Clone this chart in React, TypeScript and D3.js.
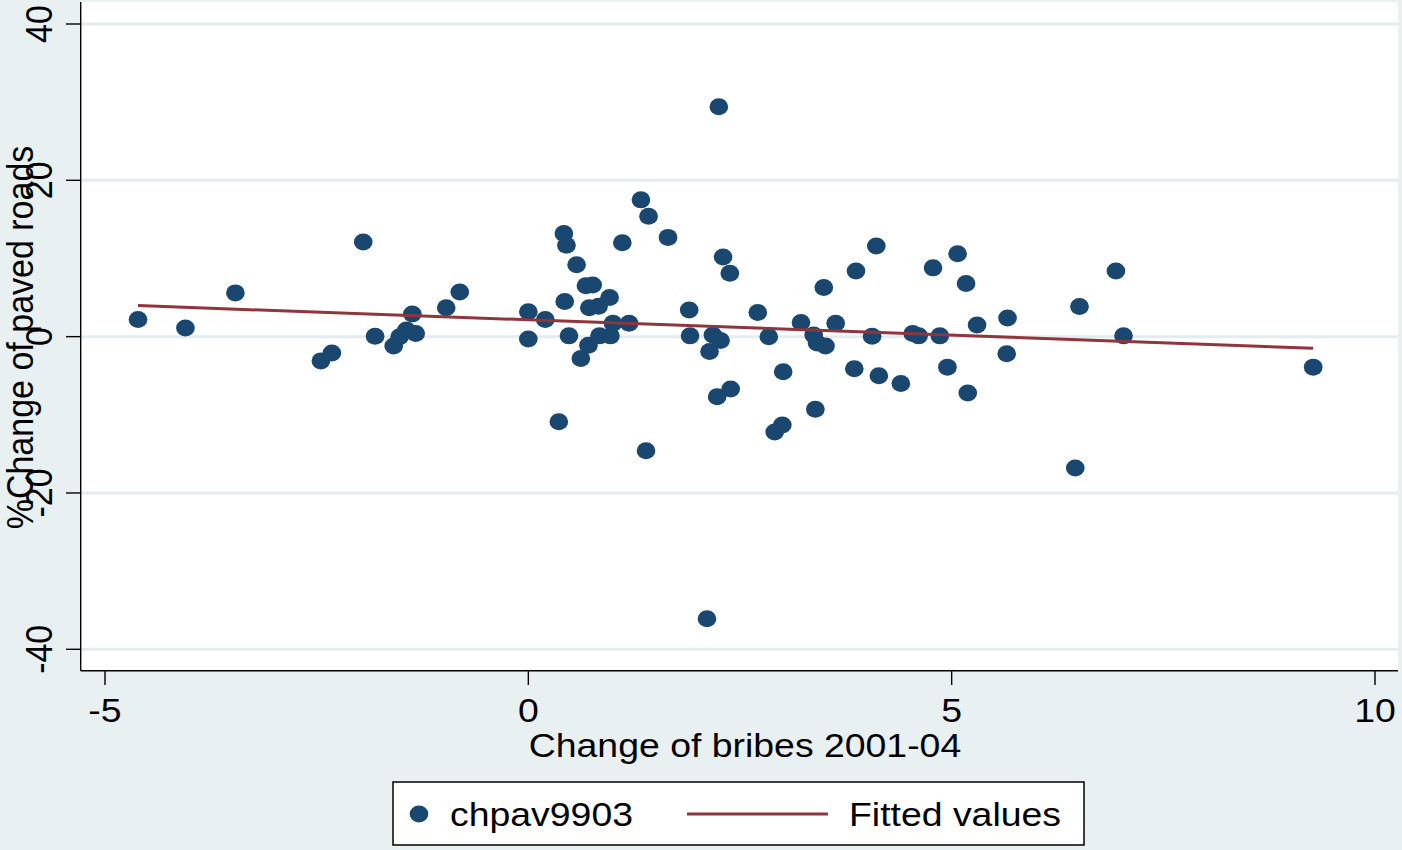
import React from "react";
import * as d3 from "d3";

// ---- data ----
const bribes: number[] = [
  -4.61, -4.05, -3.46, -2.45, -2.32, -1.95, -1.81, -1.59, -1.52, -1.44, -1.37, -1.33, -0.97, -0.81,
  0.0, 0.0, 0.2, 0.42, 0.45, 0.57, 0.43, 0.48, 0.68, 0.76, 0.72, 0.83, 0.96, 0.71, 0.62, 0.84, 0.97, 1.0, 1.19, 1.11, 1.33, 1.42, 1.65, 0.36, 1.39,
  1.9, 1.91, 2.18, 2.27, 2.14, 2.3, 2.38, 2.23, 2.39, 2.25, 2.11, 2.71, 2.84, 3.01, 2.91, 3.0,
  3.22, 3.37, 3.41, 3.51, 3.63, 3.49, 3.87, 4.11, 4.06, 3.85, 4.14, 4.4, 4.54, 4.61, 3.39,
  4.86, 4.78, 5.07, 5.17, 5.3, 4.95, 5.19, 5.66, 5.65, 6.94, 6.51, 7.03, 6.46, 9.27,
];
const paved: number[] = [
  2.2, 1.1, 5.6, -3.1, -2.1, 12.1, 0.05, -1.2, 0.0, 0.85, 2.9, 0.4, 3.7, 5.7,
  3.2, -0.3, 2.2, 13.2, 11.7, 9.2, 4.5, 0.1, 6.5, 6.6, 3.7, 3.9, 5.0, -1.1, -2.8, 0.1, 0.1, 1.7, 1.7, 12.0, 17.5, 15.4, 12.7, -10.9, -14.6,
  3.4, 0.1, 0.2, -0.5, -1.9, 10.2, 8.1, -7.7, -6.7, 29.4, -36.1, 3.1, 0.0, -4.5, -12.2, -11.3,
  1.8, 0.2, -0.8, -1.2, 1.7, 6.3, 8.4, 11.6, 0.05, -4.1, -5.0, -6.0, 0.4, 0.1, -9.3,
  0.1, 8.8, 10.6, 6.8, 1.5, -3.9, -7.2, 2.4, -2.2, 8.4, 3.85, 0.1, -16.8, -3.9,
];
const fitX: number[] = [-4.61, 9.27];
const fitY: number[] = [3.97, -1.49];
const xTicks: number[] = [-5, 0, 5, 10];
const yTicks: number[] = [-40, -20, 0, 20, 40];
const xTitle = "Change of bribes 2001-04";
const yTitle = "%Change of paved roads";
const legendLabels: string[] = ["chpav9903", "Fitted values"];

// ---- layout ----
const K = 1.1; // horizontal stretch of the reference
const W = 1402;
const H = 850;
const VW = W / K;
const plotL = 80.7 / K;
const plotR = 1398 / K;
const plotT = 2;
const plotB = 670.7;

const BG = "#E8F0F2";
const GRID = "#E4ECEF";
const NAVY = "#1A476F";
const MAROON = "#90353B";
const FONT = "'Liberation Sans', Arial, Helvetica, sans-serif";
const FS = 34;

export default function App() {
  const x = d3.scaleLinear().domain([-5, 10]).range([105 / K, 1375 / K]);
  const y = d3.scaleLinear().domain([-40, 40]).range([649.3, 24]);
  const pts = bribes.map((b, i) => [b, paved[i]] as [number, number]);
  const fitPts = fitX.map((v, i) => [v, fitY[i]] as [number, number]);
  const line = d3
    .line<[number, number]>()
    .x((d) => x(d[0]))
    .y((d) => y(d[1]));

  const nss = { vectorEffect: "non-scaling-stroke" as const };

  return (
    <svg
      width={W}
      height={H}
      viewBox={`0 0 ${VW} ${H}`}
      preserveAspectRatio="none"
      style={{ position: "absolute", left: 0, top: 0, display: "block" }}
      fontFamily={FONT}
    >
      <rect x={0} y={0} width={VW} height={H} fill={BG} />
      <rect x={plotL} y={plotT} width={plotR - plotL} height={plotB - plotT} fill="#ffffff" />
      {yTicks.map((t) => (
        <line
          key={"g" + t}
          x1={plotL}
          x2={plotR}
          y1={y(t)}
          y2={y(t)}
          stroke={GRID}
          strokeWidth={3}
          style={nss}
        />
      ))}
      {pts.map((d, i) => (
        <circle key={"p" + i} cx={x(d[0])} cy={y(d[1])} r={8.5} fill={NAVY} />
      ))}
      <path d={line(fitPts) || ""} fill="none" stroke={MAROON} strokeWidth={3} style={nss} />

      {/* axes */}
      <line x1={plotL} x2={plotL} y1={plotT} y2={plotB} stroke="#000" strokeWidth={1.4} style={nss} />
      <line x1={plotL} x2={plotR} y1={plotB} y2={plotB} stroke="#000" strokeWidth={1.4} style={nss} />
      {yTicks.map((t) => (
        <g key={"yt" + t}>
          <line x1={66 / K} x2={plotL} y1={y(t)} y2={y(t)} stroke="#000" strokeWidth={1.4} style={nss} />
          <text
            transform={`translate(${51.7 / K},${y(t)}) rotate(-90)`}
            textAnchor="middle"
            fontSize={FS}
            fill="#000"
          >
            {t}
          </text>
        </g>
      ))}
      {xTicks.map((t) => (
        <g key={"xt" + t}>
          <line x1={x(t)} x2={x(t)} y1={plotB} y2={685} stroke="#000" strokeWidth={1.4} style={nss} />
          <text x={x(t)} y={721.7} textAnchor="middle" fontSize={FS} fill="#000">
            {t}
          </text>
        </g>
      ))}
      <text x={745 / K} y={757} textAnchor="middle" fontSize={FS} fill="#000">
        {xTitle}
      </text>
      <text
        transform={`translate(${33 / K},337.5) rotate(-90)`}
        textAnchor="middle"
        fontSize={FS}
        fill="#000"
      >
        {yTitle}
      </text>

      {/* legend */}
      <rect
        x={393 / K}
        y={782}
        width={(1084 - 393) / K}
        height={63}
        fill="#ffffff"
        stroke="#000"
        strokeWidth={1.5}
        style={nss}
      />
      <circle cx={419 / K} cy={814} r={8.5} fill={NAVY} />
      <text x={450 / K} y={826} fontSize={FS} fill="#000">
        {legendLabels[0]}
      </text>
      <line x1={687 / K} x2={828 / K} y1={814} y2={814} stroke={MAROON} strokeWidth={3} style={nss} />
      <text x={849 / K} y={826} fontSize={FS} fill="#000">
        {legendLabels[1]}
      </text>
    </svg>
  );
}
